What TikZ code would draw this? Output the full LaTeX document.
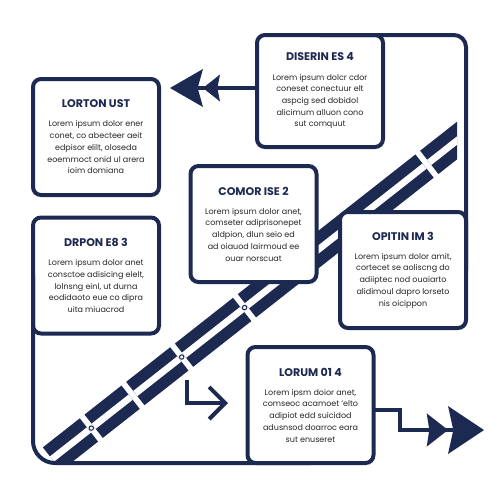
\documentclass[tikz,border=0pt]{standalone}
\usepackage{fontspec}
\setmainfont{Poppins}
\usetikzlibrary{arrows.meta,calc}
\definecolor{navy}{HTML}{1C2951}
\definecolor{bodygray}{HTML}{262626}
\newcommand{\infottl}[1]{{\fontsize{8.3}{10}\selectfont\bfseries\color{navy}#1}\\[5.5pt]}
\tikzset{every picture/.style={line width=0.75pt}}
\tikzset{
  infobox/.style={draw=navy,line width=3pt,rounded corners=6pt,fill=white,minimum width=94.5pt,minimum height=87pt,inner sep=0pt,outer sep=0pt,align=center,text=bodygray,font=\fontsize{6}{8.8}\selectfont},
  frameline/.style={draw=navy,line width=3pt},
  railway/.style={draw=navy,line width=8.6pt,double=white,double distance=5pt},
  railpin/.style={draw=navy,fill=white,line width=0.75pt},
  twinhead/.style={frameline,-{Stealth[length=12.75pt,width=20.25pt,inset=2pt,line width=0pt] Stealth[length=24.75pt,width=28.5pt,inset=4pt,sep=-9pt,line width=0pt]}},
  bighead/.style={frameline,-{Stealth[length=16pt,width=25pt,inset=2pt,line width=0pt] Stealth[length=27pt,width=36pt,inset=4pt,sep=-9pt,line width=0pt]}},
  openhead/.style={frameline,-{Straight Barb[length=12pt,width=24pt]}}
}

\begin{document}
\begin{tikzpicture}[x=0.75pt,y=0.75pt,yscale=-1,xscale=1]
\useasboundingbox (0,0) rectangle (500,500);

%Rail: centre line of the double track
\coordinate (rail) at (52,459);
\coordinate (railend) at (445,150);

%Shape: Double track, cut into pieces
\begin{scope}
\clip (38,100) rectangle (457,461);
\foreach \a/\b in {0/47,53/100,106/162,168/242,248/474,480/540}
  \draw[railway] ($(rail)!{\a/500}!(railend)$) -- ($(rail)!{\b/500}!(railend)$);
\end{scope}

%Boxes
\node[infobox] (lorton) at (96,137) {\infottl{LORTON UST}Lorem ipsum dolor ener\\conet, co abecteer aeit\\edpisor elilt, oloseda\\eoemmoct onid ul arera\\ioim domiana};
\node[infobox,minimum height=84pt] (diserin) at (320,91) {\infottl{DISERIN ES 4}Lorem ipsum dolcr cdor\\coneset conectuur elt\\aspcig sed dobidol\\alicimum alluon cono\\sut comquut};
\node[infobox] (comor) at (253.5,224) {\infottl{COMOR ISE 2}Lorem ipsum dolor anet,\\comseter adiprisonepet\\aldpion, dlun seio ed\\ad oiauod lairmoud ee\\ouar norscuat};
\node[infobox] (opitin) at (403,270) {\infottl{OPITIN IM 3}Lorem ipsum dolor amit,\\cortecet se aoliscng do\\adiiptec nod ouaiarto\\alidimoul dapro lorseto\\nis oicippon};
\node[infobox] (drpon) at (96,275.5) {\infottl{DRPON E8 3}Lorem ipsum dolor anet\\consctoe adisicing elelt,\\lolnsng einl, ut durna\\eodidaoto eue co dipra\\uita miuacrod};
\node[infobox] (lorum) at (310.5,405) {\infottl{LORUM 01 4}Lorem ipsm doior anet,\\comseoc acamoet ’elto\\adipiot edd suicidod\\adusnsod doarroc eara\\sut enuseret};

%Frame lines
\draw[frameline,rounded corners=9pt] (diserin.north) -- (diserin.north -| opitin.east) -- (opitin.east);
\draw[frameline,rounded corners=16.5pt] (drpon.west) -- (drpon.west |- lorum.south) -- (lorum.south);

%Arrows
\coordinate (tipA) at (182,88);
\draw[twinhead] (tipA -| diserin.west) -- (tipA);
\coordinate (tipB) at (472,430);
\draw[bighead] ([yshift=3.75pt]lorum.east) -- ++(26,0) |- (tipB);
\coordinate (bendTop) at (187,380);
\coordinate (bendTip) at (228,403);
\draw[openhead] (bendTop) |- (bendTip);

%Pins between the rails
\foreach \t in {50,165,245}
  \draw[railpin] ($(rail)!{\t/500}!(railend)$) circle[radius=2.2];

\end{tikzpicture}
\end{document}
